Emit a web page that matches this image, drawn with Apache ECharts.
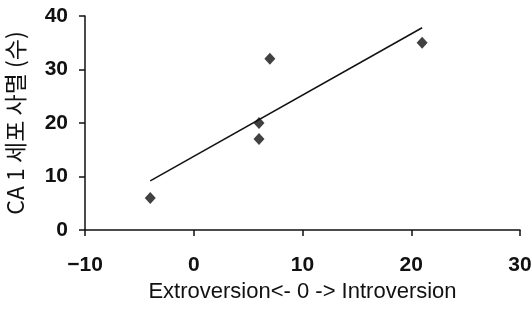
<!DOCTYPE html>
<html>
<head>
<meta charset="utf-8">
<script src="https://cdn.jsdelivr.net/npm/echarts@6/dist/echarts.min.js"></script>
<style>
  html, body { margin: 0; padding: 0; background: #fff; }
  #chart { width: 532px; height: 324px; }
</style>
</head>
<body>
<div id="chart"></div>
<script>
// Personality score (x) vs. CA1 cell death count (y)
const scoreX = [-4, 6, 6, 7, 21];
const deathY = [6, 20, 17, 32, 35];
const xTicks = [-10, 0, 10, 20, 30];
const yTicks = [0, 10, 20, 30, 40];

// Least-squares trend line across the observed x range
function linearFit(xs, ys) {
  const n = xs.length;
  const mx = xs.reduce((a, b) => a + b, 0) / n;
  const my = ys.reduce((a, b) => a + b, 0) / n;
  let sxy = 0, sxx = 0;
  for (let i = 0; i < n; i++) {
    sxy += (xs[i] - mx) * (ys[i] - my);
    sxx += (xs[i] - mx) * (xs[i] - mx);
  }
  const slope = sxy / sxx;
  return { slope, intercept: my - slope * mx };
}
const fit = linearFit(scoreX, deathY);
const xMin = Math.min(...scoreX), xMax = Math.max(...scoreX);
const trend = [xMin, xMax].map(x => [x, fit.intercept + fit.slope * x]);

const points = scoreX.map((x, i) => [x, deathY[i]]);
const font = 'Liberation Sans, Arial, sans-serif';

const chart = echarts.init(document.getElementById('chart'));
chart.setOption({
  animation: false,
  backgroundColor: '#fff',
  grid: { left: 85, right: 12, top: 16, bottom: 94, containLabel: false, outerBoundsMode: 'none' },
  xAxis: {
    type: 'value',
    min: xTicks[0], max: xTicks[xTicks.length - 1], interval: 10,
    name: 'Extroversion<- 0 -> Introversion',
    nameLocation: 'middle', nameGap: 50,
    nameTextStyle: { fontFamily: font, fontSize: 22, color: '#111' },
    axisLine: { show: true, onZero: false, lineStyle: { color: '#111', width: 1.5 } },
    axisTick: { show: true, inside: false, length: 6, lineStyle: { color: '#111', width: 1.5 } },
    axisLabel: { fontFamily: font, fontSize: 21, fontWeight: 'bold', color: '#111', margin: 25,
      formatter: v => (v < 0 ? '\u2212' + Math.abs(v) : String(v)) },
    splitLine: { show: false }
  },
  yAxis: {
    type: 'value',
    min: yTicks[0], max: yTicks[yTicks.length - 1], interval: 10,
    name: 'CA 1 세포 사멸 (수)',
    nameLocation: 'middle', nameGap: 58, nameRotate: 90,
    nameTextStyle: { fontFamily: 'Noto Sans CJK KR, ' + font, fontSize: 23, color: '#111' },
    axisLine: { show: true, onZero: false, lineStyle: { color: '#111', width: 1.5 } },
    axisTick: { show: true, inside: false, length: 6, lineStyle: { color: '#111', width: 1.5 } },
    axisLabel: { fontFamily: font, fontSize: 21, fontWeight: 'bold', color: '#111', margin: 17 },
    splitLine: { show: false }
  },
  series: [
    {
      type: 'line',
      data: trend,
      symbol: 'none',
      lineStyle: { color: '#111', width: 1.5 },
      z: 2
    },
    {
      type: 'scatter',
      data: points,
      symbol: 'diamond',
      symbolSize: [11, 12],
      itemStyle: { color: '#111' },
      z: 3
    }
  ]
});
</script>
</body>
</html>
